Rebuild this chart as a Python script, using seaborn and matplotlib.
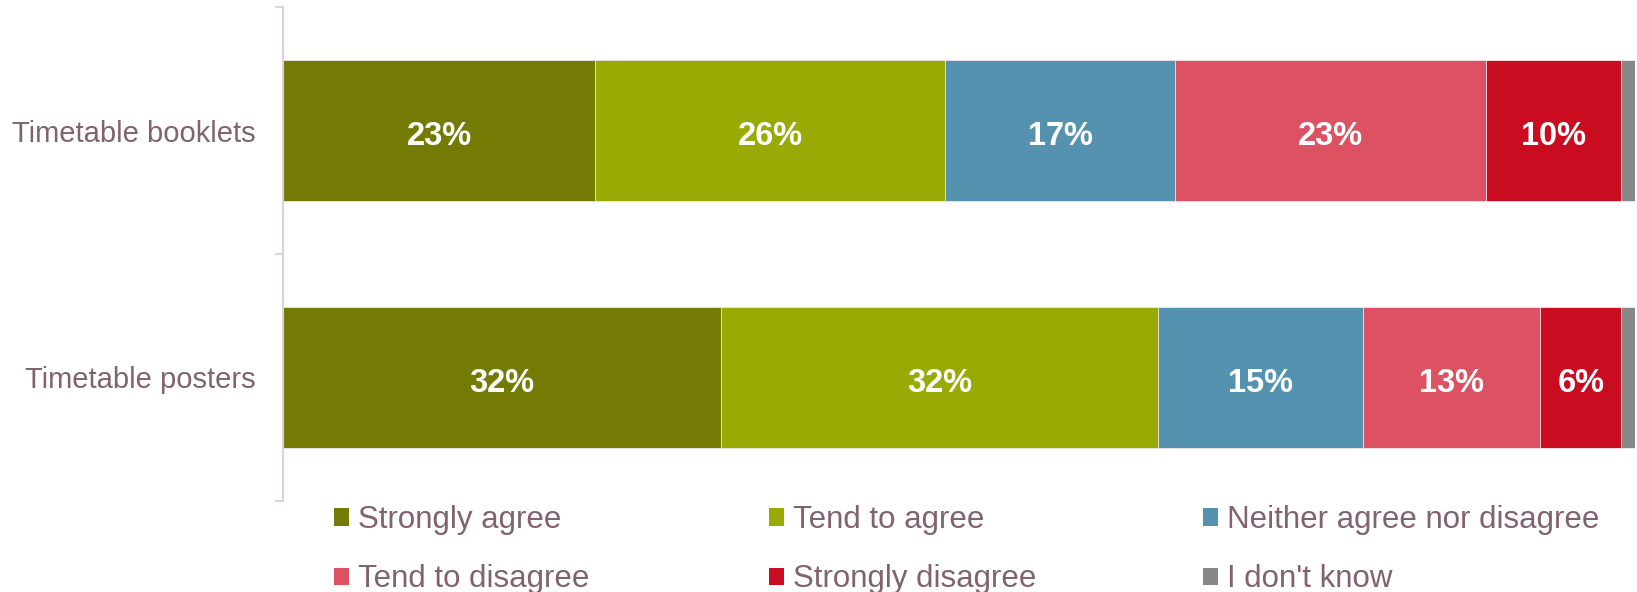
import matplotlib
matplotlib.use("Agg")
import numpy as np
import pandas as pd
import matplotlib.pyplot as plt
from matplotlib.patches import Patch
import seaborn as sns

# Survey items and response categories
items = ["Timetable booklets", "Timetable posters"]
responses = ["Strongly agree", "Tend to agree", "Neither agree nor disagree",
             "Tend to disagree", "Strongly disagree", "I don't know"]

# Percentage of respondents per response (booklets, posters)
strongly_agree = [23.1, 32.4]
tend_to_agree = [25.9, 32.3]
neither = [17.0, 15.2]
tend_to_disagree = [23.0, 13.1]
strongly_disagree = [10.0, 6.0]
dont_know = [1.0, 1.0]

colors = ["#737B04", "#9AAA05", "#5592B0", "#DD5262", "#CA0C21", "#878787"]
text_color = "#80636F"
white_labels = [True, True, True, True, True, False]

sns.set_style("white")
plt.rcParams["font.family"] = ["Liberation Sans", "DejaVu Sans"]

series = [strongly_agree, tend_to_agree, neither, tend_to_disagree,
          strongly_disagree, dont_know]
values = np.array(series, dtype=float)          # shape: responses x items
cumulative = np.cumsum(values, axis=0)

fig = plt.figure(figsize=(16.37, 5.92), dpi=100)
ax = fig.add_axes([283 / 1637, 1 - 501 / 592, (1635 - 283) / 1637, (501 - 7) / 592])

# Stacked bars: draw running totals from the last response back to the first
for i in range(len(responses) - 1, -1, -1):
    df = pd.DataFrame({"item": items, "total": cumulative[i]})
    sns.barplot(data=df, x="total", y="item", orient="h", color=colors[i],
                width=0.57, errorbar=None, edgecolor="#F3E9EC", linewidth=0.6,
                saturation=1, ax=ax)

# Value labels in the middle of each segment
for j, item in enumerate(items):
    left = 0.0
    for i, resp in enumerate(responses):
        v = values[i, j]
        if white_labels[i]:
            ax.annotate(f"{v:.0f}%", xy=(left + v / 2, j), xytext=(0, -10.5),
                        textcoords="offset points", ha="center", va="baseline",
                        color="white", fontsize=23.5, fontweight="bold")
        left += v

ax.set_xlim(0, 100)
ax.set_ylim(1.5, -0.5)
ax.set_xlabel("")
ax.set_ylabel("")
ax.set_xticks([])
for side in ["top", "right", "bottom"]:
    ax.spines[side].set_visible(False)
ax.spines["left"].set_color("#DCD3D7")
ax.spines["left"].set_linewidth(1.5)

ax.set_yticks(range(len(items)))
ax.set_yticklabels(items, fontsize=21, color=text_color)
ax.set_yticks([-0.5, 0.5, 1.5], minor=True)
ax.tick_params(axis="y", which="major", left=False, length=0, pad=19.5)
ax.tick_params(axis="y", which="minor", left=True, length=5.8, width=1.5,
               color="#DCD3D7")

# Legend laid out as three columns of two rows
handles = [Patch(facecolor=c, edgecolor="none") for c in colors]
columns = [(0, 3), (1, 4), (2, 5)]
col_x = [334, 769, 1203]
for (a, b), x in zip(columns, col_x):
    leg = fig.legend([handles[a], handles[b]], [responses[a], responses[b]],
                     loc="upper left", bbox_to_anchor=(x / 1637, 1 - 505 / 592),
                     frameon=False, fontsize=22.5, handlelength=0.48,
                     handleheight=0.48, handletextpad=0.3, labelspacing=0.94,
                     borderpad=0, borderaxespad=0)
    for t in leg.get_texts():
        t.set_color(text_color)

fig.savefig("out.png", dpi=100, facecolor="white")
